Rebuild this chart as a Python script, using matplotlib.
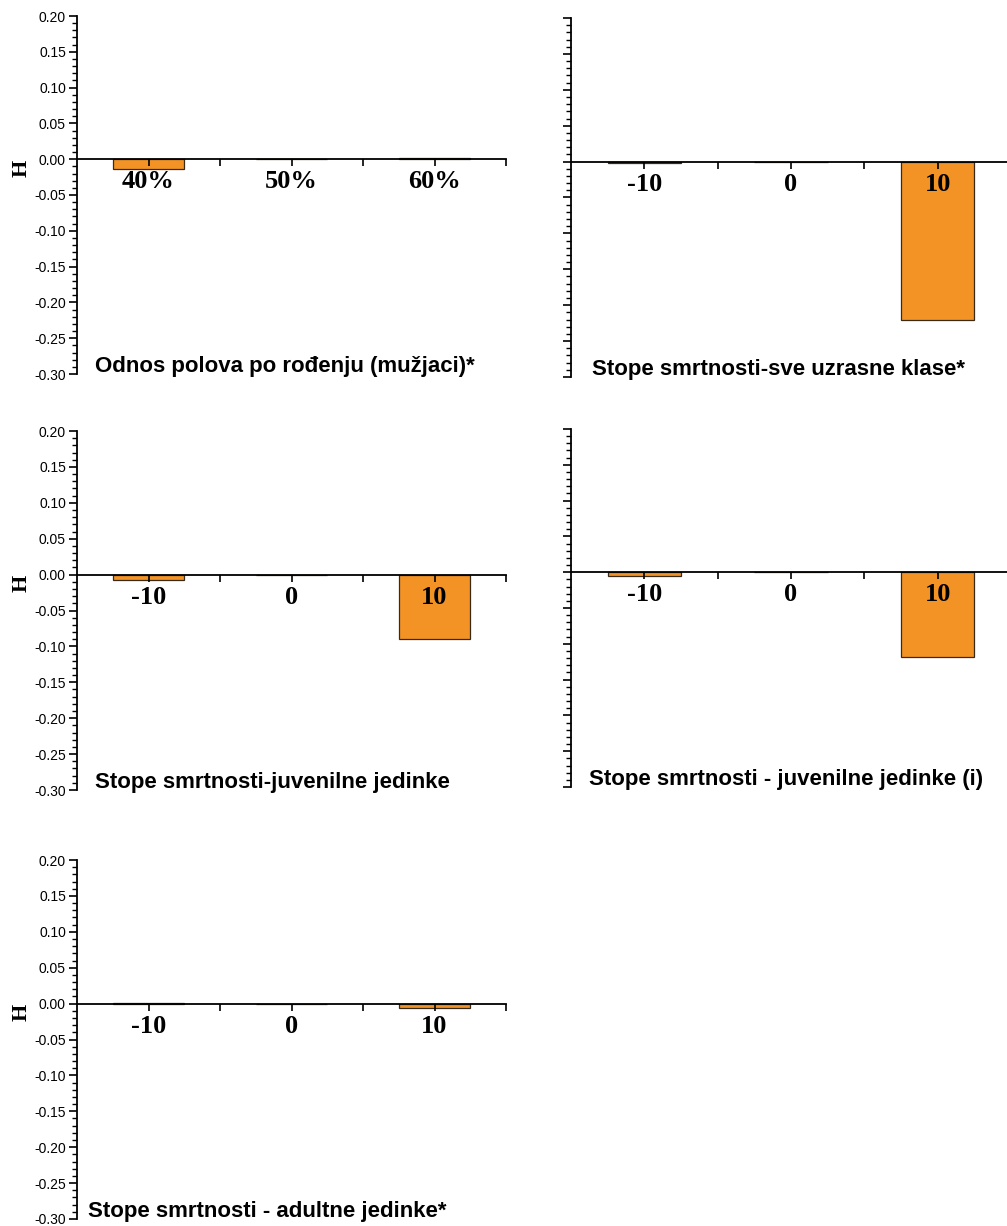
import numpy as np
import matplotlib
matplotlib.use("Agg")
import matplotlib.pyplot as plt
from matplotlib.ticker import MultipleLocator, FixedLocator

# data
sex_cats = ['40%', '50%', '60%']
rate_cats = ['-10', '0', '10']

sex_ratio = [-0.014, 0.0, 0.001]
mort_all = [-0.002, 0.0, -0.221]
mort_juv = [-0.007, 0.0, -0.090]
mort_juv_i = [-0.006, 0.0, -0.119]
mort_adult = [0.001, 0.0, -0.006]

titles = ['Odnos polova po rođenju (mužjaci)*',
          'Stope smrtnosti-sve uzrasne klase*',
          'Stope smrtnosti-juvenilne jedinke',
          'Stope smrtnosti - juvenilne jedinke (i)',
          'Stope smrtnosti - adultne jedinke*']

W, H = 1007, 1226
BAR = '#F39325'

# panel boxes in pixels: left, top, right, bottom
boxes = [(77, 16, 506, 374), (571, 18, 1011, 377),
         (77, 431, 506, 790), (571, 429, 1011, 787),
         (77, 860, 506, 1219)]
title_x = [0.042, 0.048, 0.042, 0.042, 0.026]


def panel(fig, box, cats, vals, title, tx, left_labels):
    l, t, r, b = box
    ax = fig.add_axes([l / W, 1 - b / H, (r - l) / W, (b - t) / H])
    x = np.arange(len(cats))
    ax.bar(x, vals, width=0.5, color=BAR, edgecolor='#3a2a1a', linewidth=0.9)
    ax.set_xlim(-0.5, len(cats) - 0.5)
    ax.set_ylim(-0.30, 0.20)

    for s in ['top', 'right']:
        ax.spines[s].set_visible(False)
    ax.spines['bottom'].set_position(('data', 0))
    ax.spines['bottom'].set_linewidth(1.3)
    ax.spines['left'].set_linewidth(1.3)

    ax.set_xticks(x)
    ax.set_xticklabels(cats, fontfamily='Liberation Serif', fontweight='bold', fontsize=19)
    ax.xaxis.set_minor_locator(FixedLocator(x + 0.5))
    ax.tick_params(axis='x', which='both', direction='out', length=5, width=1.2, pad=3)

    ax.yaxis.set_major_locator(MultipleLocator(0.05))
    ax.yaxis.set_minor_locator(MultipleLocator(0.01))
    ax.tick_params(axis='y', which='major', direction='out', length=6, width=1.2, pad=2)
    ax.tick_params(axis='y', which='minor', direction='out', length=3.5, width=1.0)
    if left_labels:
        ax.set_yticklabels(['%.2f' % v for v in ax.get_yticks()],
                           fontfamily='Liberation Sans', fontsize=10)
        ax.set_ylabel('H', fontfamily='Liberation Serif', fontweight='bold', fontsize=16)
        ax.yaxis.set_label_coords(-0.105, 0.575)
    else:
        ax.set_yticklabels([])

    ax.text(tx, -0.297, title, transform=ax.get_yaxis_transform(),
            fontfamily='Liberation Sans', fontweight='bold', fontsize=16, va='baseline', ha='left')
    return ax


fig = plt.figure(figsize=(W / 100, H / 100), dpi=100)
series = [(sex_cats, sex_ratio), (rate_cats, mort_all), (rate_cats, mort_juv),
          (rate_cats, mort_juv_i), (rate_cats, mort_adult)]
for i, (cats, vals) in enumerate(series):
    panel(fig, boxes[i], cats, vals, titles[i], title_x[i], i % 2 == 0)

fig.savefig('out.png', dpi=100, facecolor='white')
